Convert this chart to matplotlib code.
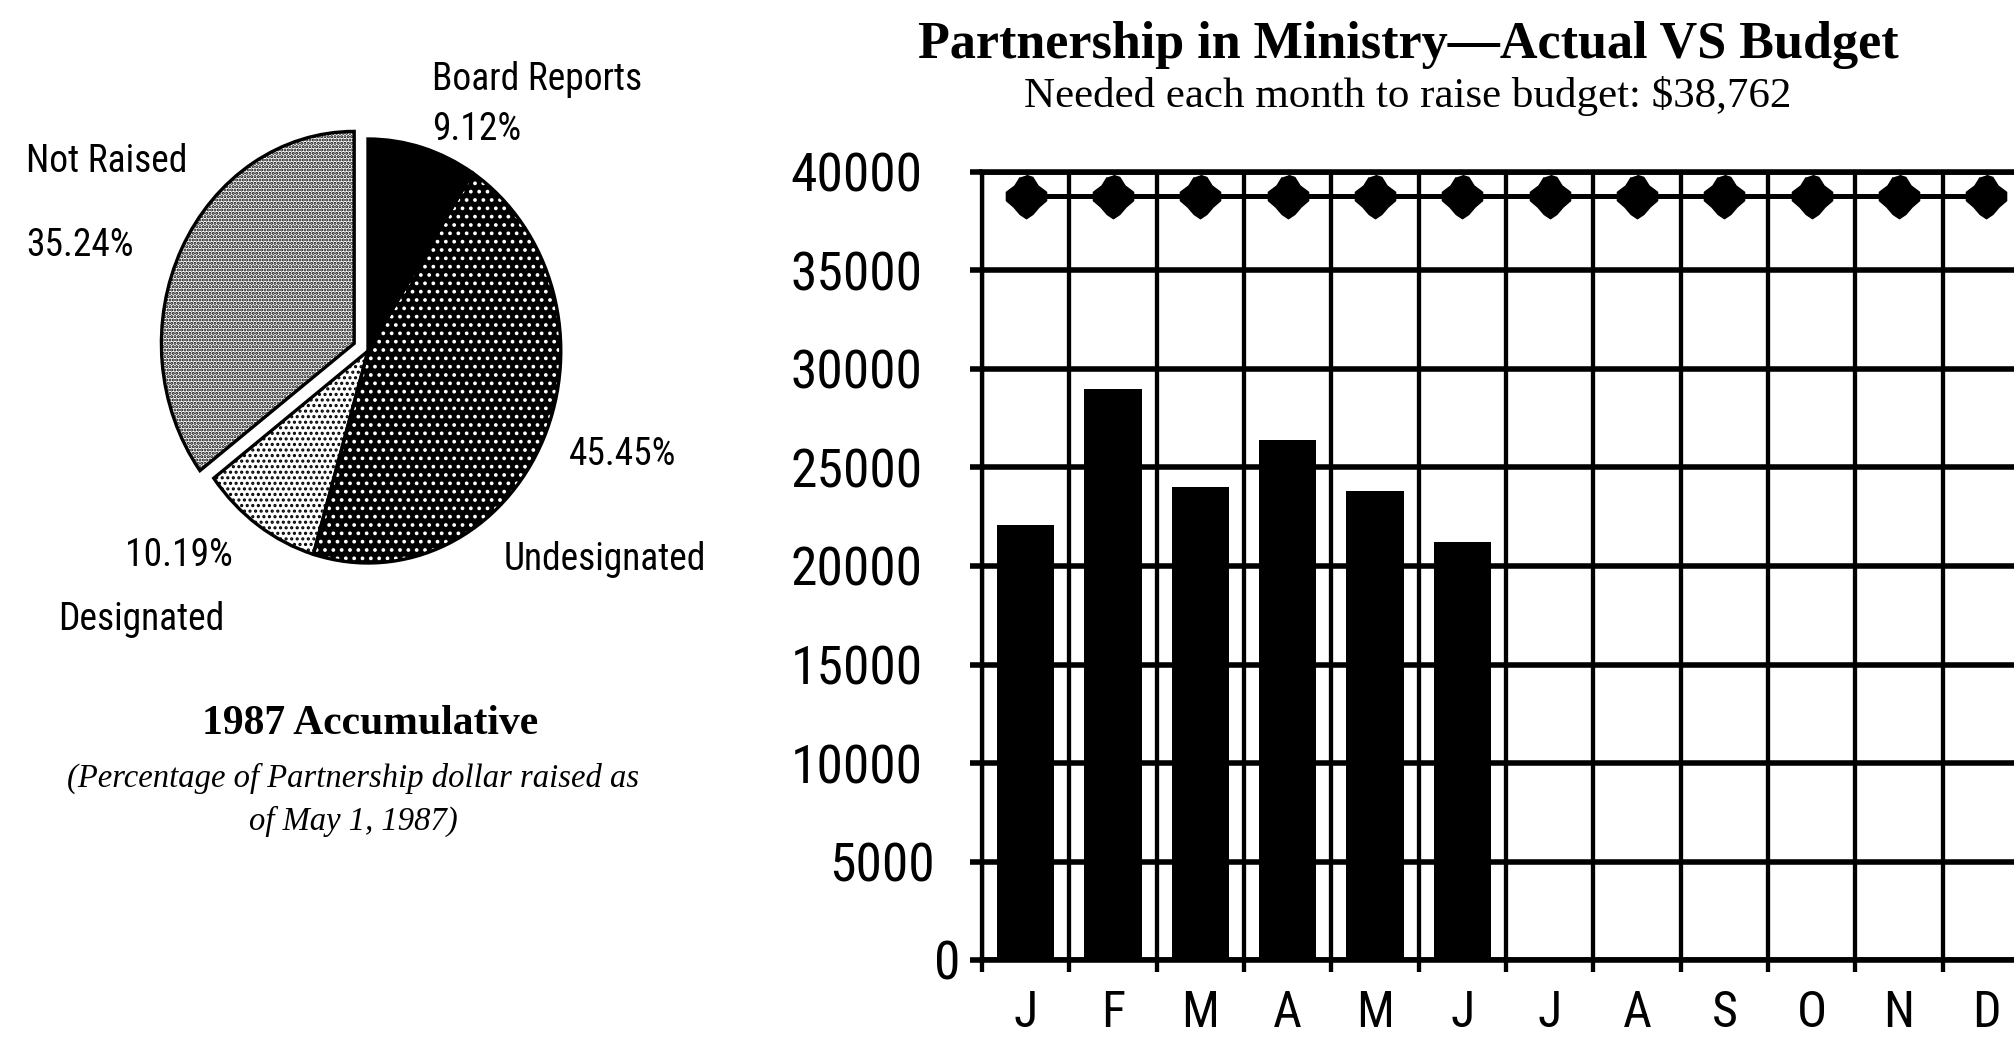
import numpy as np
import matplotlib
matplotlib.use('Agg')
import matplotlib.pyplot as plt
import matplotlib.transforms as mtransforms
from matplotlib import font_manager
from matplotlib.patches import Wedge

# pie: share of the Partnership dollar (%)
pie_labels = ['Board Reports', 'Undesignated', 'Designated', 'Not Raised']
pie_pcts = [9.12, 45.45, 10.19, 35.24]
pie_explode = [0, 0, 0, 0.08]

# bars: actual per month vs the monthly budget
months = ['J', 'F', 'M', 'A', 'M', 'J', 'J', 'A', 'S', 'O', 'N', 'D']
actual = [22100, 29000, 24000, 26400, 23800, 21200]
budget = [38762] * 12
y_ticks = [0, 5000, 10000, 15000, 20000, 25000, 30000, 35000, 40000]

title = 'Partnership in Ministry\u2014Actual VS Budget'
subtitle = 'Needed each month to raise budget: $38,762'
pie_title = '1987 Accumulative'
pie_note = ['(Percentage of Partnership dollar raised as', 'of May 1, 1987)']

# fonts: narrow sans like the original, fall back if not there
names = {f.name for f in font_manager.fontManager.ttflist}
sans, k = 'Liberation Sans', 0.88
for cand in ['Liberation Sans Narrow', 'DejaVu Sans Condensed',
             'Roboto Condensed', 'Arial Narrow']:
    if cand in names:
        sans, k = cand, 1.0
        break
serif = 'Liberation Serif'

W, H = 2015, 1048
fig = plt.figure(figsize=(W / 100, H / 100), dpi=100)
fig.patch.set_facecolor('white')


def fx(x):
    return x / W


def fy(y):
    return 1 - y / H


# ---- pie (left) ----
plt.rcParams['hatch.linewidth'] = 1.5
ax_pie = fig.add_axes([fx(127), fy(616), 482 / W, 530 / H])
wedges, _ = ax_pie.pie(pie_pcts, startangle=90, counterclock=False,
                       explode=pie_explode, wedgeprops=dict(linewidth=0))
ax_pie.set_aspect('auto')
ax_pie.set_xlim(-1.25, 1.25)
ax_pie.set_ylim(-1.25, 1.25)

# face, hatch, hatch colour
styles = [('black', None, 'black'),
          ('black', '..', 'white'),
          ('white', '...', 'black'),
          ('white', '.....', 'black')]
for w, (fc, hatch, hc) in zip(wedges, styles):
    w.set_facecolor(fc)
    w.set_hatch(hatch)
    w.set_edgecolor(hc)
    w.set_linewidth(0)
    ax_pie.add_patch(Wedge(w.center, w.r, w.theta1, w.theta2, fill=False,
                           edgecolor='black', linewidth=2.4, zorder=3))

# label placement (pixels): name pos, percent pos
label_pos = {
    'Board Reports': ((432, 80), (432, 129)),
    'Not Raised': ((26, 162), (26, 245)),
    'Undesignated': ((504, 559), (569, 454)),
    'Designated': ((58, 619), (125, 555)),
}
for name, pct in zip(pie_labels, pie_pcts):
    (nx, ny), (px, py) = label_pos[name]
    fig.text(fx(nx), fy(ny), name, ha='left', va='center',
             fontsize=27 * k, family=sans)
    fig.text(fx(px), fy(py), f'{pct:.2f}%', ha='left', va='center',
             fontsize=27 * k, family=sans)

fig.text(fx(370), fy(724), pie_title, ha='center', va='center',
         fontsize=30, family=serif, fontweight='bold')
fig.text(fx(353), fy(778), pie_note[0], ha='center', va='center',
         fontsize=23.5, family=serif, style='italic')
fig.text(fx(353), fy(821), pie_note[1], ha='center', va='center',
         fontsize=23.5, family=serif, style='italic')

# ---- bar chart (right) ----
fig.text(fx(1408), fy(45), title, ha='center', va='center',
         fontsize=37.5, family=serif, fontweight='bold')
fig.text(fx(1408), fy(96), subtitle, ha='center', va='center',
         fontsize=31, family=serif)

ax = fig.add_axes([fx(982), fy(960), 1048 / W, 788 / H])
x = np.arange(len(months))
ax.bar(x[:len(actual)], actual, width=0.66, color='black', zorder=3)

budget_marker = [(0, 20), (6, 18), (11, 10), (19, 4), (19, -4), (12, -10),
                 (6, -17), (0, -21), (-6, -17), (-12, -10), (-19, -4),
                 (-19, 4), (-11, 10), (-6, 18)]
ax.plot(x, budget, color='black', lw=3.6, marker=budget_marker, ms=32,
        mfc='black', mec='black', mew=1, zorder=4, clip_on=False)

ax.set_xlim(-0.5, len(months) - 0.5)
ax.set_ylim(0, 40000)
ax.set_yticks(y_ticks)
ax.set_yticklabels([str(v) for v in y_ticks], family=sans)
ax.set_xticks(x)
ax.set_xticklabels(months, family=sans)
ax.set_xticks(np.arange(-0.5, len(months)), minor=True)

ax.tick_params(axis='x', which='major', length=0, pad=21, labelsize=36 * k)
ax.tick_params(axis='x', which='minor', length=8.6, width=3.1, direction='out')
ax.tick_params(axis='y', length=8.6, width=4, direction='out', pad=34,
               labelsize=38.5 * k)
ax.grid(axis='y', which='major', color='black', lw=4)
ax.grid(axis='x', which='minor', color='black', lw=3.1)
ax.set_axisbelow(True)

# the lowest labels sit closer to the axis in the original
shift_px = {0: 38, 5000: 12}
for lab, v in zip(ax.get_yticklabels(), y_ticks):
    if v in shift_px:
        lab.set_transform(lab.get_transform() + mtransforms.ScaledTranslation(
            shift_px[v] / 100, 0, fig.dpi_scale_trans))

ax.spines['right'].set_visible(False)
ax.spines['left'].set_linewidth(3.1)
ax.spines['bottom'].set_linewidth(4)
ax.spines['top'].set_linewidth(4)

fig.savefig('out.png', dpi=100, facecolor='white')
